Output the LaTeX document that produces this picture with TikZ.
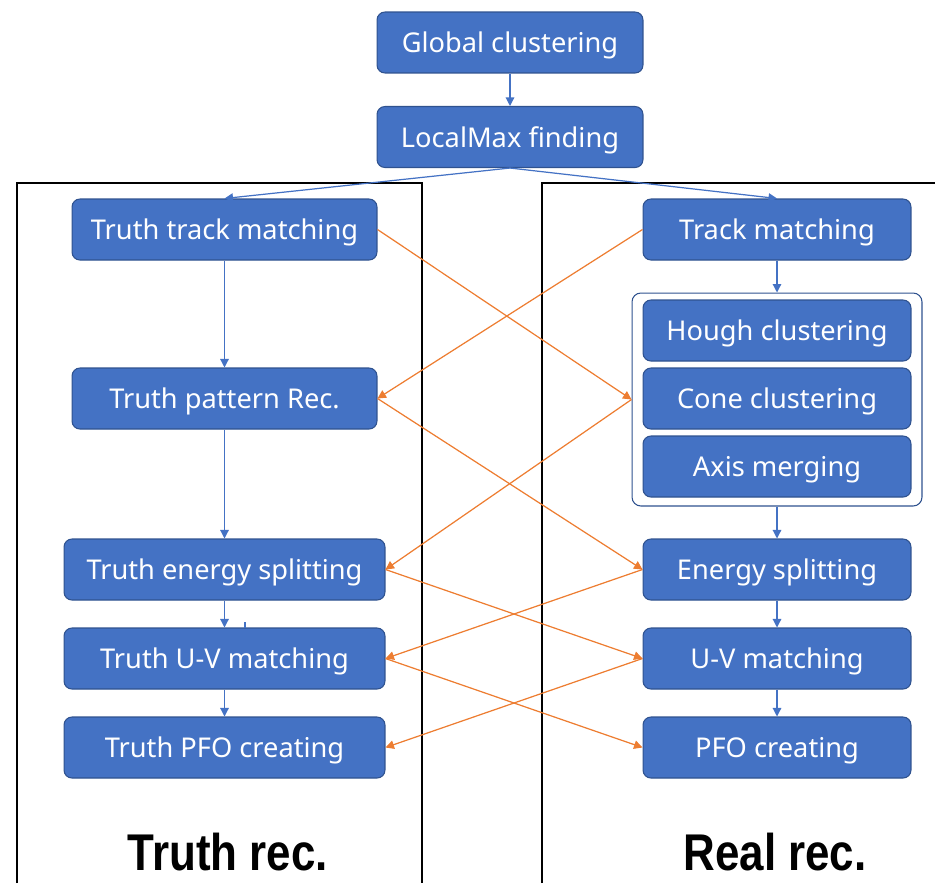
\documentclass[tikz,border=0pt]{standalone}
\usepackage{fontspec}
\setmainfont{Noto Sans}
\newfontfamily\labelfont{Liberation Sans}
\usetikzlibrary{arrows.meta,positioning}
\definecolor{boxblue}{HTML}{4472C4}
\definecolor{boxedge}{HTML}{2F528F}
\definecolor{orange2}{HTML}{ED7D31}

\begin{document}
\begin{tikzpicture}[
          x=0.02cm, y=-0.02cm,
          every node/.style={font=\fontsize{15.5}{18}\selectfont},
          stage/.style={draw=boxedge,fill=boxblue,text=white,rounded corners=4.5pt,
                        line width=0.6pt,minimum height=1.22cm,inner sep=0pt,
                        text depth=0pt},
          group/.style={draw=boxedge,fill=white,rounded corners=5pt,line width=0.6pt,
                        minimum width=5.8cm,minimum height=4.26cm},
          frame/.style={draw=black,line width=1.1pt},
          flow/.style={-{Triangle[length=1.7mm,width=1.7mm]},boxblue,line width=0.7pt},
          cross/.style={-{Triangle[length=1.7mm,width=1.7mm]},orange2,line width=0.7pt},
          title/.style={font=\labelfont\bfseries\fontsize{29.4}{32}\selectfont},
      ]
        \useasboundingbox (0,0) rectangle (935,883);

        % top chain
        \node[stage,minimum width=5.32cm] (gc) at (510,42.5) {Global clustering};
        \node[stage,minimum width=5.32cm] (lm) at (510,137) {LocalMax finding};

        % frames
        \draw[frame] (17,883) -- (17,183) -- (422,183) -- (422,883);
        \draw[frame] (542,883) -- (542,183) -- (935,183);

        % truth side
        \node[stage,minimum width=6.1cm] (ttm) at (224.5,229.5) {Truth track matching};
        \node[stage,minimum width=6.1cm] (tpr) at (224.5,398.5) {Truth pattern Rec.};
        \node[stage,minimum width=6.42cm] (tes) at (224.5,569.5) {Truth energy splitting};
        \node[stage,minimum width=6.42cm] (tuv) at (224.5,658.5) {Truth U-V matching};
        \node[stage,minimum width=6.42cm] (tpfo) at (224.5,747.5) {Truth PFO creating};

        % real side
        \node[stage,minimum width=5.36cm] (tm) at (777,229.5) {Track matching};
        \node[group] (grp) at (777,399.5) {};
        \node[stage,minimum width=5.36cm] (hc) at (777,330.5) {Hough clustering};
        \node[stage,minimum width=5.36cm] (cc) at (777,398.5) {Cone clustering};
        \node[stage,minimum width=5.36cm] (am) at (777,466.5) {Axis merging};
        \node[stage,minimum width=5.36cm] (es) at (777,569.5) {Energy splitting};
        \node[stage,minimum width=5.36cm] (uv) at (777,658.5) {U-V matching};
        \node[stage,minimum width=5.36cm] (pfo) at (777,747.5) {PFO creating};

        \node[title] (ttitle) at (228,852) {\scalebox{0.85}[1]{Truth rec.}};
        \node[title] (rtitle) at (775,852) {\scalebox{0.85}[1]{Real rec.}};

        % blue flow
        \draw[flow] (gc) -- (lm);
        \draw[flow] (lm.south) -- (ttm.north);
        \draw[flow] (lm.south) -- (tm.north);
        \draw[flow] (ttm) -- (tpr);
        \draw[flow] (tpr) -- (tes);
        \draw[flow] (tes) -- (tuv);
        \draw[flow] (tuv) -- (tpfo);
        \draw[boxblue,line width=0.7pt] (245,622) -- (245,628);
        \draw[flow] (tm) -- (grp);
        \draw[flow] (grp) -- (es);
        \draw[flow] (es) -- (uv);
        \draw[flow] (uv) -- (pfo);

        % orange crossings
        \draw[cross] (ttm.east) -- (grp.west);
        \draw[cross] (tm.west) -- (tpr.east);
        \draw[cross] (tpr.east) -- (es.west);
        \draw[cross] (grp.west) -- (tes.east);
        \draw[cross] (tes.east) -- (uv.west);
        \draw[cross] (es.west) -- (tuv.east);
        \draw[cross] (tuv.east) -- (pfo.west);
        \draw[cross] (uv.west) -- (tpfo.east);
      \end{tikzpicture}
\end{document}
